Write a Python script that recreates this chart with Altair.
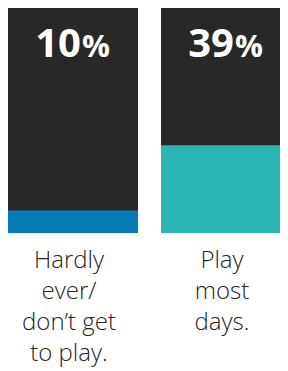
import altair as alt
import pandas as pd

categories = ["Hardly ever/ don’t get to play.", "Play most days."]
values = [10, 39]
numbers = ["10", "39"]
label_lines = [["Hardly", "ever/", "don’t get", "to play."], ["Play", "most", "days."]]
colors = ["#077bb4", "#2bb5b5"]

df = pd.DataFrame({
    "cat": categories,
    "value": values,
    "full": [100, 100],
    "num": numbers,
    "pct": ["%", "%"],
    "lines": label_lines,
})

x = alt.X("cat:N", sort=categories, axis=None,
          scale=alt.Scale(range=[0, 283], paddingInner=23 / 153, paddingOuter=0))
yscale = alt.Scale(domain=[0, 100], nice=False, zero=True)

base = alt.Chart(df)

bg = base.mark_bar(color="#282828", cornerRadius=0).encode(
    x=x, y=alt.Y("full:Q", scale=yscale, axis=None))

fg = base.mark_bar(cornerRadius=0).encode(
    x=x,
    y=alt.Y("value:Q", scale=yscale, axis=None),
    color=alt.Color("cat:N", sort=categories, scale=alt.Scale(domain=categories, range=colors), legend=None),
)

num = base.mark_text(font="Open Sans", fontWeight="bold", fontSize=40, color="white",
                     align="right", baseline="alphabetic", dx=8).encode(
    x=x, y=alt.value(49), text="num:N")

pct = base.mark_text(font="Open Sans", fontWeight="bold", fontSize=31, color="white",
                     align="left", baseline="alphabetic", dx=9).encode(
    x=x, y=alt.value(49), text="pct:N")

lab = base.mark_text(font="Open Sans", fontWeight=300, fontSize=24, color="#262626",
                     align="center", baseline="alphabetic", lineHeight=31, dx=-4).encode(
    x=x, y=alt.value(260), text="lines")

chart = alt.layer(bg, fg, num, pct, lab).properties(
    width=272, height=225,
    autosize=alt.AutoSizeParams(type="none"),
    padding={"top": 0, "left": 0, "right": 0, "bottom": 138},
).configure_view(stroke=None)

chart.save("out.html", embed_options={"renderer": "svg", "actions": False})
